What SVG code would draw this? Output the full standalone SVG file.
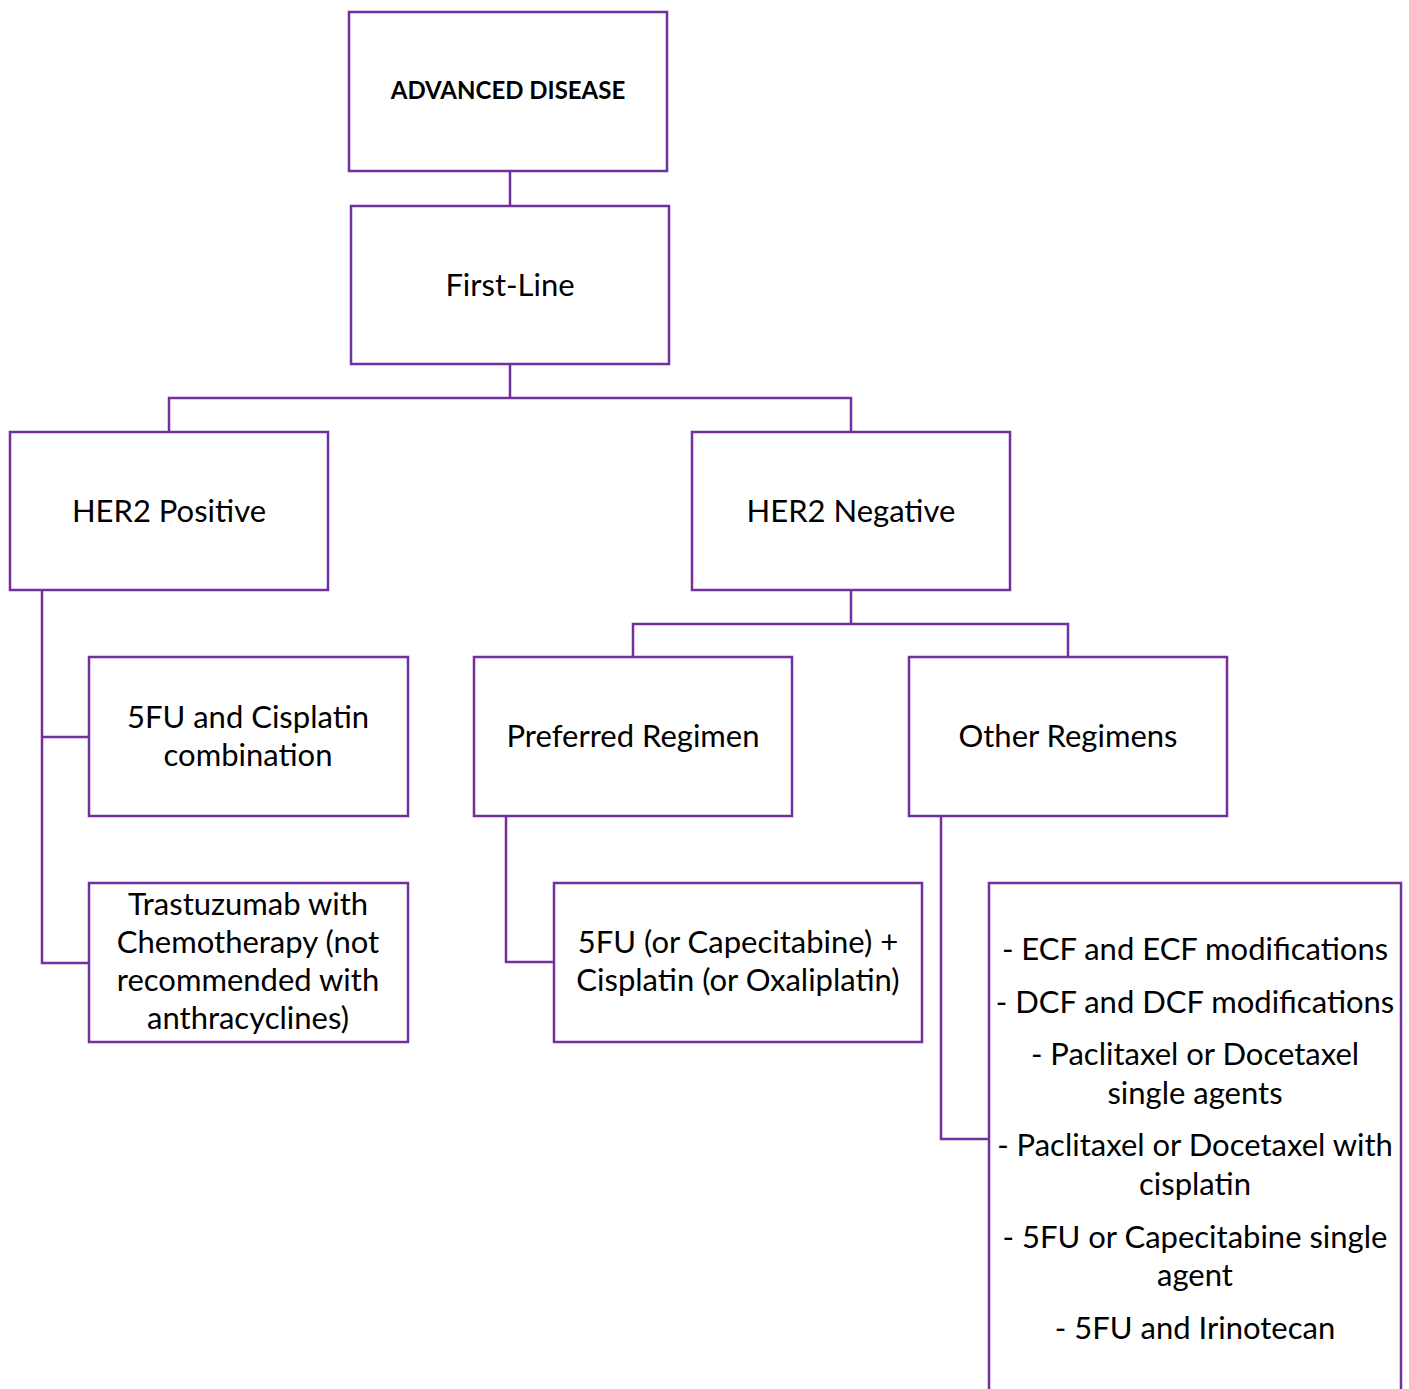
<svg xmlns="http://www.w3.org/2000/svg" width="1409" height="1389" viewBox="0 0 1409 1389">
<style>
.box{fill:#fff;stroke:#7030A0;stroke-width:2.5}
.con{fill:none;stroke:#7030A0;stroke-width:2.5}
text{font-family:Lato,"Liberation Sans",sans-serif;font-size:31px;fill:#000;text-anchor:middle}
.b{font-weight:bold;font-size:24px}
</style>
<rect width="1409" height="1389" fill="#fff"/>
<g id="connectors">
<path class="con" d="M510 171V206"/>
<path class="con" d="M510 364V398H169V432M510 398H851V432"/>
<path class="con" d="M42 590V963H89M42 737H89"/>
<path class="con" d="M851 590V624H633V657M851 624H1068V657"/>
<path class="con" d="M506 816V962H554"/>
<path class="con" d="M941 816V1139H989"/>
</g>
<g id="advanced"><rect class="box" x="349" y="12" width="318" height="159"/><text class="b" x="508" y="99">ADVANCED DISEASE</text></g>
<g id="firstline"><rect class="box" x="351" y="206" width="318" height="158"/><text x="510" y="296">First-Line</text></g>
<g id="her2pos"><rect class="box" x="10" y="432" width="318" height="158"/><text x="169" y="522">HER2 Positive</text></g>
<g id="her2neg"><rect class="box" x="692" y="432" width="318" height="158"/><text x="851" y="522">HER2 Negative</text></g>
<g id="fu-cis"><rect class="box" x="89" y="657" width="319" height="159"/><text x="248" y="728">5FU and Cisplatin</text><text x="248" y="766">combination</text></g>
<g id="trastuzumab"><rect class="box" x="89" y="883" width="319" height="159"/><text x="248" y="915">Trastuzumab with</text><text x="248" y="953">Chemotherapy (not</text><text x="248" y="991">recommended with</text><text x="248" y="1029">anthracyclines)</text></g>
<g id="preferred"><rect class="box" x="474" y="657" width="318" height="159"/><text x="633" y="747">Preferred Regimen</text></g>
<g id="other"><rect class="box" x="909" y="657" width="318" height="159"/><text x="1068" y="747">Other Regimens</text></g>
<g id="pref-list"><rect class="box" x="554" y="883" width="368" height="159"/><text x="738" y="953">5FU (or Capecitabine) +</text><text x="738" y="991">Cisplatin (or Oxaliplatin)</text></g>
<g id="other-list"><path class="box" d="M989 1392V883H1401V1392"/>
<text x="1195" y="960">- ECF and ECF modifications</text>
<text x="1195" y="1013">- DCF and DCF modifications</text>
<text x="1195" y="1065">- Paclitaxel or Docetaxel</text>
<text x="1195" y="1104">single agents</text>
<text x="1195" y="1156">- Paclitaxel or Docetaxel with</text>
<text x="1195" y="1195">cisplatin</text>
<text x="1195" y="1248">- 5FU or Capecitabine single</text>
<text x="1195" y="1286">agent</text>
<text x="1195" y="1339">- 5FU and Irinotecan</text>
</g>
</svg>
